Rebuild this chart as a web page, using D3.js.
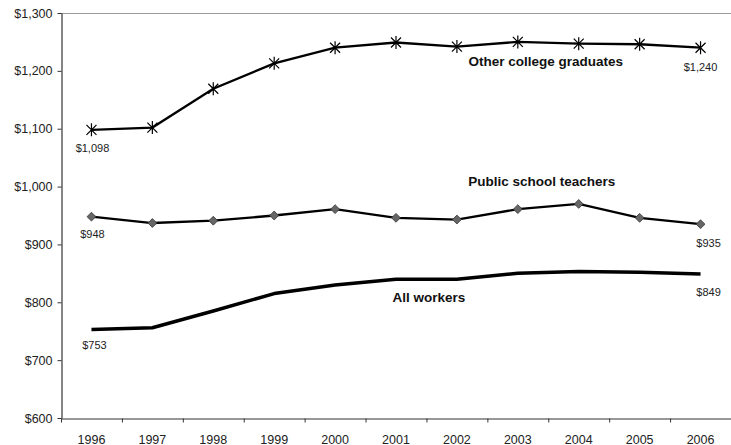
<!DOCTYPE html>
<html>
<head>
<meta charset="utf-8">
<script src="https://cdn.jsdelivr.net/npm/d3@7.9.0/dist/d3.min.js"></script>
<style>
  body { margin: 0; background: #fff; }
  svg { display: block; font-family: "Liberation Sans", Arial, sans-serif; }
</style>
</head>
<body>
<svg id="chart" width="731" height="445"></svg>
<script>
const years = ['1996','1997','1998','1999','2000','2001','2002','2003','2004','2005','2006'];
const collegeGrads = [1098, 1102, 1169, 1213, 1240, 1249, 1242, 1250, 1247, 1246, 1240];
const teachers = [948, 937, 941, 950, 961, 946, 943, 961, 970, 946, 935];
const allWorkers = [753, 756, 785, 815, 830, 840, 840, 850, 853, 852, 849];
const yTicks = [600, 700, 800, 900, 1000, 1100, 1200, 1300];

const svg = d3.select('#chart');
const plotLeft = 61, plotRight = 731, plotTop = 13, plotBottom = 418;
const font = '"Liberation Sans", Arial, sans-serif';

const x = d3.scaleBand().domain(years).range([plotLeft, plotRight]).padding(0);
const y = d3.scaleLinear().domain([600, 1300]).range([plotBottom, plotTop]);
const cx = d => x(d) + x.bandwidth() / 2;
const money = d3.format('$,');

// top border
svg.append('line')
  .attr('x1', plotLeft).attr('x2', plotRight)
  .attr('y1', plotTop + 0.5).attr('y2', plotTop + 0.5)
  .attr('stroke', '#9a9a9a').attr('stroke-width', 1);

// y axis
const yAxis = svg.append('g')
  .attr('transform', `translate(${plotLeft + 0.5},0)`)
  .call(d3.axisLeft(y).tickValues(yTicks).tickFormat(money).tickSize(4).tickSizeOuter(0));
yAxis.select('.domain').attr('stroke', '#333').attr('stroke-width', 1.2);
yAxis.selectAll('.tick line').attr('stroke', '#333');
yAxis.selectAll('.tick text').attr('font-size', 12.5).attr('fill', '#222')
  .attr('font-family', font).attr('x', -9);

// x axis with ticks between categories
const xAxis = svg.append('g')
  .attr('transform', `translate(0,${plotBottom + 0.5})`)
  .call(d3.axisBottom(x).tickSize(0).tickSizeOuter(0));
xAxis.select('.domain').attr('stroke', '#333').attr('stroke-width', 1.2);
xAxis.selectAll('.tick text').attr('font-size', 12.5).attr('fill', '#222')
  .attr('font-family', font).attr('dy', 0).attr('y', 25);
xAxis.selectAll('.sep')
  .data(years)
  .enter().append('line')
  .attr('class', 'sep')
  .attr('x1', d => x(d) + 0.5).attr('x2', d => x(d) + 0.5)
  .attr('y1', 0).attr('y2', 4)
  .attr('stroke', '#333');

const line = d3.line().x((d, i) => cx(years[i])).y(d => y(d));

svg.append('path').datum(allWorkers)
  .attr('d', line).attr('fill', 'none')
  .attr('stroke', '#000').attr('stroke-width', 3.5).attr('stroke-linejoin', 'round');

svg.append('path').datum(teachers)
  .attr('d', line).attr('fill', 'none')
  .attr('stroke', '#000').attr('stroke-width', 2.3);

svg.append('path').datum(collegeGrads)
  .attr('d', line).attr('fill', 'none')
  .attr('stroke', '#000').attr('stroke-width', 2.3);

// diamond markers
svg.selectAll('.diamond')
  .data(teachers)
  .enter().append('path')
  .attr('class', 'diamond')
  .attr('d', d3.symbol().type(d3.symbolDiamond2).size(50))
  .attr('transform', (d, i) => `translate(${cx(years[i])},${y(d)})`)
  .attr('fill', '#666').attr('stroke', '#333').attr('stroke-width', 0.8);

// star markers (X plus vertical stroke)
const star = (() => {
  const p = d3.path(), r = 6.5, s = 5;
  p.moveTo(0, -r); p.lineTo(0, r);
  p.moveTo(-s, -s); p.lineTo(s, s);
  p.moveTo(-s, s); p.lineTo(s, -s);
  return p.toString();
})();
svg.selectAll('.star')
  .data(collegeGrads)
  .enter().append('path')
  .attr('class', 'star')
  .attr('d', star)
  .attr('transform', (d, i) => `translate(${cx(years[i])},${y(d)})`)
  .attr('fill', 'none').attr('stroke', '#000').attr('stroke-width', 1.2);

// end-point value labels
const valueLabels = [
  { series: collegeGrads, i: 0, dx: 1, dy: 22 },
  { series: collegeGrads, i: 10, dx: 0, dy: 23 },
  { series: teachers, i: 0, dx: 1, dy: 21 },
  { series: teachers, i: 10, dx: 8, dy: 23 },
  { series: allWorkers, i: 0, dx: 3, dy: 20 },
  { series: allWorkers, i: 10, dx: 8, dy: 22 }
];
svg.selectAll('.vlabel')
  .data(valueLabels)
  .enter().append('text')
  .attr('class', 'vlabel')
  .attr('x', d => cx(years[d.i]) + d.dx)
  .attr('y', d => y(d.series[d.i]) + d.dy)
  .attr('text-anchor', 'middle')
  .attr('font-size', 11).attr('fill', '#222')
  .text(d => money(d.series[d.i]));

// series names
const seriesNames = [
  { name: 'Other college graduates', year: '2004', value: 1208, dx: -33 },
  { name: 'Public school teachers', year: '2004', value: 1001, dx: -37 },
  { name: 'All workers', year: '2002', value: 800, dx: -28 }
];
svg.selectAll('.sname')
  .data(seriesNames)
  .enter().append('text')
  .attr('class', 'sname')
  .attr('x', d => cx(d.year) + d.dx)
  .attr('y', d => y(d.value))
  .attr('text-anchor', 'middle')
  .attr('font-size', 13.5).attr('font-weight', 'bold').attr('fill', '#111')
  .text(d => d.name);
</script>
</body>
</html>
